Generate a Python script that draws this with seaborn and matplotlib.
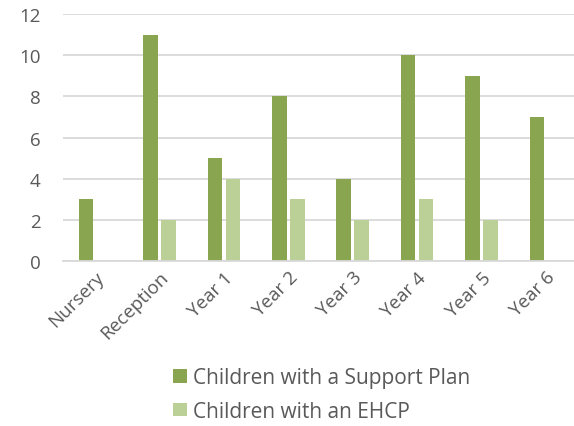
import matplotlib
matplotlib.use("Agg")
import matplotlib.pyplot as plt
import seaborn as sns
import pandas as pd

categories = ["Nursery", "Reception", "Year 1", "Year 2", "Year 3", "Year 4", "Year 5", "Year 6"]
support_plan = [3, 11, 5, 8, 4, 10, 9, 7]
ehcp = [0, 2, 4, 3, 2, 3, 2, 0]
series_names = ["Children with a Support Plan", "Children with an EHCP"]
colors = ["#8AA54F", "#BAD097"]

df = pd.DataFrame({
    "cat": categories * 2,
    "val": support_plan + ehcp,
    "series": [series_names[0]] * len(categories) + [series_names[1]] * len(categories),
})

sns.set_style("white")
plt.rcParams["font.family"] = ["Open Sans", "DejaVu Sans"]

fig = plt.figure(figsize=(5.74, 4.27), dpi=100)
ax = fig.add_axes([63 / 574, (427 - 262) / 427, 515 / 574, (262 - 15) / 427])

sns.barplot(data=df, x="cat", y="val", hue="series", order=categories,
            hue_order=series_names, palette=colors, saturation=1, width=0.56, gap=0.2,
            linewidth=0, ax=ax, legend=True)

ax.set_ylim(0, 12)
ax.set_xlim(-0.5, 7.5)
ax.set_yticks(range(0, 13, 2))
ax.yaxis.grid(True, color="#D9D9D9", linewidth=1.3)
ax.set_axisbelow(True)
for s in ["top", "right", "left"]:
    ax.spines[s].set_visible(False)
ax.spines["bottom"].set_color("#D9D9D9")
ax.spines["bottom"].set_linewidth(1.3)
ax.set_xlabel("")
ax.set_ylabel("")
ax.tick_params(axis="both", length=0, colors="#595959", labelsize=13.5)
ax.tick_params(axis="y", pad=16)
ax.tick_params(axis="x", pad=5)
plt.setp(ax.get_xticklabels(), rotation=45, ha="right", rotation_mode="anchor")

handles, labels = ax.get_legend_handles_labels()
ax.legend_.remove()
leg = fig.legend(handles, labels, loc="upper left", bbox_to_anchor=(165 / 574, 1 - 360 / 427),
                 frameon=False, ncol=1, fontsize=15, handlelength=0.65, handleheight=0.65,
                 handletextpad=0.3, labelspacing=0.6, borderaxespad=0)
for t in leg.get_texts():
    t.set_color("#595959")

fig.savefig("out.png", dpi=100)
